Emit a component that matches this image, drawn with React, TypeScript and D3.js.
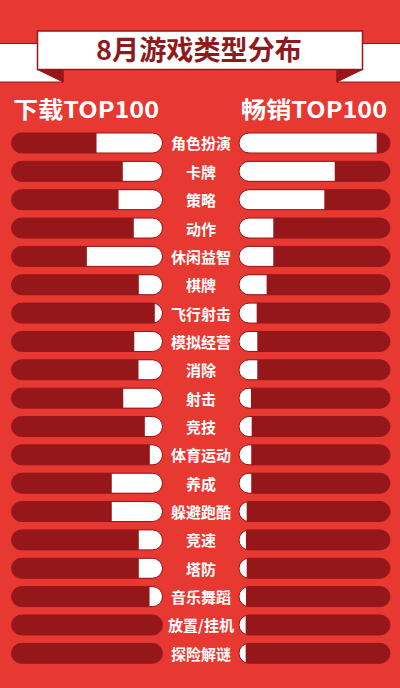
import React, { useEffect } from "react";
import * as d3 from "d3";

// genre categories, top to bottom
const genres = [
  "角色扮演", "卡牌", "策略", "动作", "休闲益智", "棋牌", "飞行射击", "模拟经营",
  "消除", "射击", "竞技", "体育运动", "养成", "躲避跑酷", "竞速", "塔防",
  "音乐舞蹈", "放置/挂机", "探险解谜",
];
// share of the bar (percent)
const downloads = [43.7, 26.3, 29.1, 19, 50.1, 15.7, 5.1, 18.7, 15.9, 26, 11.7, 8.4, 33.6, 33.6, 15.7, 15.7, 8.6, 0, 0];
const grossing = [91.2, 63.4, 56.5, 22.7, 22.7, 18.3, 11.7, 12.1, 12.1, 7.9, 8.4, 8.1, 8.1, 5.1, 4.6, 5.1, 4.6, 4.4, 4.4];

const title = "8月游戏类型分布";
const leftTitle = "下载TOP100";
const rightTitle = "畅销TOP100";

const W = 400;
const H = 688;
const BG = "#e83832";
const DARK = "#96171a";
const TITLE_RED = "#8e1a1c";
const FONT = "'Noto Sans CJK SC', 'Noto Sans', sans-serif";

export default function App() {
  useEffect(() => {
    document.body.style.margin = "0";
  }, []);

  const y = d3.scaleBand<string>().domain(genres).range([133, 663.3]).paddingInner(0.295);
  const bh = y.bandwidth();
  const leftX0 = 11.5;
  const rightX0 = 239;
  const trackW = 151;
  const x = d3.scaleLinear().domain([0, 100]).range([0, trackW]);
  const r = bh / 2;

  return (
    <svg width={W} height={H} style={{ display: "block", fontFamily: FONT }}>
      <rect width={W} height={H} fill={BG} />

      {/* ribbon */}
      <g stroke={DARK} strokeWidth={1}>
        <rect x={-2} y={43.5} width={65} height={38.5} fill="#fff" />
        <rect x={337} y={43.5} width={65} height={38.5} fill="#fff" />
        <path d="M37.5,69.5 L63,69.5 L63,82 Z" fill={DARK} />
        <path d="M362.5,69.5 L337,69.5 L337,82 Z" fill={DARK} />
        <rect x={37.5} y={31} width={325} height={38.5} fill="#fff" strokeWidth={1.5} />
      </g>
      <text
        x={96}
        y={60}
        fontSize={27}
        fontWeight="bold"
        fill={TITLE_RED}
        textLength={206}
        lengthAdjust="spacingAndGlyphs"
      >
        {title}
      </text>

      <text x={13} y={118} fontSize={23} fontWeight="bold" fill="#fff" textLength={146} lengthAdjust="spacingAndGlyphs">
        {leftTitle}
      </text>
      <text x={241} y={118} fontSize={23} fontWeight="bold" fill="#fff" textLength={146} lengthAdjust="spacingAndGlyphs">
        {rightTitle}
      </text>

      <defs>
        {genres.map((g, i) => (
          <React.Fragment key={g}>
            <clipPath id={`cl${i}`}>
              <rect x={leftX0} y={y(g)} width={trackW} height={bh} rx={r} />
            </clipPath>
            <clipPath id={`cr${i}`}>
              <rect x={rightX0} y={y(g)} width={trackW} height={bh} rx={r} />
            </clipPath>
          </React.Fragment>
        ))}
      </defs>

      {genres.map((g, i) => {
        const y0 = y(g) ?? 0;
        const lw = x(downloads[i]);
        const rw = x(grossing[i]);
        return (
          <g key={g}>
            <rect x={leftX0} y={y0} width={trackW} height={bh} rx={r} fill={DARK} />
            <rect
              x={leftX0 + trackW - lw}
              y={y0}
              width={lw}
              height={bh}
              fill="#fff"
              clipPath={`url(#cl${i})`}
            />
            <rect x={leftX0} y={y0} width={trackW} height={bh} rx={r} fill="none" stroke={DARK} strokeWidth={1} />

            <rect x={rightX0} y={y0} width={trackW} height={bh} rx={r} fill={DARK} />
            <rect x={rightX0} y={y0} width={rw} height={bh} fill="#fff" clipPath={`url(#cr${i})`} />
            <rect x={rightX0} y={y0} width={trackW} height={bh} rx={r} fill="none" stroke={DARK} strokeWidth={1} />

            <text
              x={201}
              y={y0 + r}
              textAnchor="middle"
              dominantBaseline="central"
              fontSize={15}
              fontWeight="bold"
              fill="#fff"
            >
              {g}
            </text>
          </g>
        );
      })}
    </svg>
  );
}
